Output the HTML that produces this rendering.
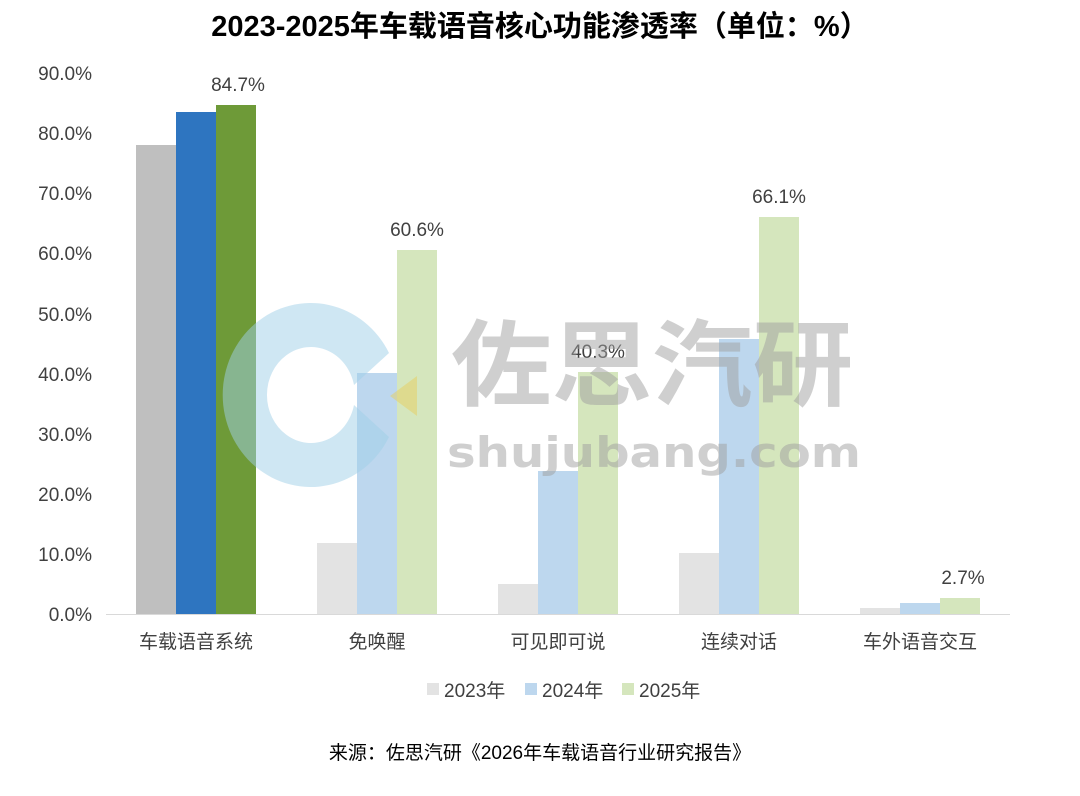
<!DOCTYPE html>
<html><head><meta charset="utf-8"><style>
body{margin:0;background:#fff;}
svg text{font-family:"Liberation Sans","Noto Sans CJK SC",sans-serif;}
</style></head><body>
<svg width="1080" height="791" viewBox="0 0 1080 791" xmlns="http://www.w3.org/2000/svg">
<rect width="1080" height="791" fill="#fff"/>
<text x="540" y="36" text-anchor="middle" font-size="29" font-weight="bold" fill="#000">2023-2025年车载语音核心功能渗透率（单位：%）</text>
<g font-size="19" fill="#404040" text-anchor="end">
<text x="92" y="621">0.0%</text><text x="92" y="561">10.0%</text><text x="92" y="501">20.0%</text>
<text x="92" y="441">30.0%</text><text x="92" y="381">40.0%</text><text x="92" y="321">50.0%</text>
<text x="92" y="260">60.0%</text><text x="92" y="200">70.0%</text><text x="92" y="140">80.0%</text><text x="92" y="80">90.0%</text>
</g>
<line x1="106" y1="614.5" x2="1010" y2="614.5" stroke="#d9d9d9" stroke-width="1"/>
<rect x="136" y="145" width="40" height="469" fill="#bfbfbf"/>
<rect x="176" y="112" width="40" height="502" fill="#2e75c0"/>
<rect x="216" y="105" width="40" height="509" fill="#6e9a38"/>
<rect x="317" y="543" width="40" height="71" fill="#e3e3e3"/>
<rect x="357" y="373" width="40" height="241" fill="#bdd7ee"/>
<rect x="397" y="250" width="40" height="364" fill="#d5e6bd"/>
<rect x="498" y="584" width="40" height="30" fill="#e3e3e3"/>
<rect x="538" y="471" width="40" height="143" fill="#bdd7ee"/>
<rect x="578" y="372" width="40" height="242" fill="#d5e6bd"/>
<rect x="679" y="553" width="40" height="61" fill="#e3e3e3"/>
<rect x="719" y="339" width="40" height="275" fill="#bdd7ee"/>
<rect x="759" y="217" width="40" height="397" fill="#d5e6bd"/>
<rect x="860" y="608" width="40" height="6" fill="#e3e3e3"/>
<rect x="900" y="603" width="40" height="11" fill="#bdd7ee"/>
<rect x="940" y="598" width="40" height="16" fill="#d5e6bd"/>
<g font-size="19" fill="#404040" text-anchor="middle">
<text x="238" y="91">84.7%</text><text x="417" y="236">60.6%</text><text x="598" y="358">40.3%</text>
<text x="779" y="203">66.1%</text><text x="963" y="584">2.7%</text>
</g>
<g opacity="0.5">
<path d="M 389 353 A 88 92 0 1 0 389 437 L 354 405 A 44 48 0 1 1 354 385 Z" fill="#9fd0e8"/>
<path d="M 390 396 L 417 376 L 417 416 Z" fill="#e8d060"/>
</g>
<g fill="#a0a0a0" opacity="0.5" font-weight="bold">
<text x="451" y="398" font-size="94" textLength="402" lengthAdjust="spacingAndGlyphs">佐思汽研</text>
<text x="447" y="467" font-size="42" textLength="414" lengthAdjust="spacingAndGlyphs" style="font-family:'DejaVu Sans',sans-serif">shujubang.com</text>
</g>
<g font-size="19" fill="#404040" text-anchor="middle">
<text x="196" y="648">车载语音系统</text><text x="377" y="648">免唤醒</text><text x="558" y="648">可见即可说</text>
<text x="739" y="648">连续对话</text><text x="920" y="648">车外语音交互</text>
</g>
<g font-size="19" fill="#404040">
<rect x="427" y="683" width="12" height="12" fill="#e3e3e3"/><text x="444" y="697">2023年</text>
<rect x="525" y="683" width="12" height="12" fill="#bdd7ee"/><text x="542" y="697">2024年</text>
<rect x="622" y="683" width="12" height="12" fill="#d5e6bd"/><text x="639" y="697">2025年</text>
</g>
<text x="540" y="759" text-anchor="middle" font-size="19" fill="#000">来源：佐思汽研《2026年车载语音行业研究报告》</text>
</svg>
</body></html>
